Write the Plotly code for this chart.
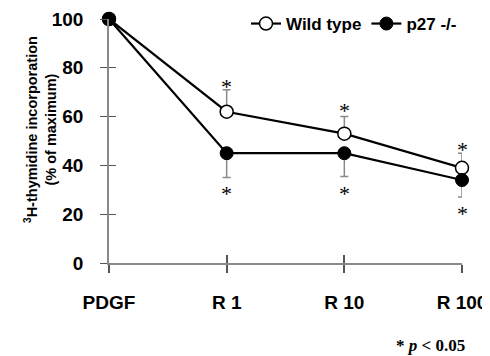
import plotly.graph_objects as go

categories = ["PDGF", "R 1", "R 10", "R 100"]
wt_values = [100, 62, 53, 39]
wt_err_plus = [0, 9, 7, 6]
p27_values = [100, 45, 45, 34]
p27_err_minus = [0, 10, 9.5, 7]
y_ticks = [0, 20, 40, 60, 80, 100]
star_cats = ["R 1", "R 10", "R 100"]
star_up_y = [74, 64, 48]
star_down_y = [30, 30, 22]

SANS = "Liberation Sans, Arial, sans-serif"
SERIF = "Liberation Serif, Times New Roman, serif"
AXC = "#8a8a8a"

# page has an 8px body margin; figure is sized/offset to compensate
W, H = 482, 348
OFF = 8

fig = go.Figure()
fig.add_trace(go.Scatter(
    x=categories, y=wt_values, name="Wild type", mode="lines+markers",
    line=dict(color="black", width=2.2),
    marker=dict(symbol="circle", size=13, color="white", line=dict(color="black", width=1.5)),
    error_y=dict(type="data", symmetric=False, array=wt_err_plus,
                 arrayminus=[0] * len(wt_values), color=AXC, thickness=1.5, width=4),
    cliponaxis=False,
))
fig.add_trace(go.Scatter(
    x=categories, y=p27_values, name="p27 -/-", mode="lines+markers",
    line=dict(color="black", width=2.2),
    marker=dict(symbol="circle", size=13, color="black", line=dict(color="black", width=1)),
    error_y=dict(type="data", symmetric=False, array=[0] * len(p27_values),
                 arrayminus=p27_err_minus, color=AXC, thickness=1.5, width=4),
    cliponaxis=False,
))
fig.add_trace(go.Scatter(x=[None], y=[None], xaxis="x2", yaxis="y2",
                         showlegend=False, hoverinfo="skip"))

for c, yu, yd in zip(star_cats, star_up_y, star_down_y):
    for yy in (yu, yd):
        fig.add_annotation(x=c, y=yy, xref="x", yref="y", text="*", showarrow=False,
                           font=dict(family=SERIF, size=22, color="black"),
                           yanchor="middle", yshift=-4)

fig.add_annotation(
    text="<sup>3</sup>H-thymidine incorporation<br>(% of maximum)",
    xref="paper", yref="paper", x=(40 - 109) / 353, y=(263 - 130) / 244,
    textangle=-90, showarrow=False, xanchor="center", yanchor="middle",
    font=dict(family=SANS, size=14.5, color="black", weight="bold"))

fig.add_annotation(
    text="* <i>p</i> &lt; 0.05", xref="paper", yref="paper",
    x=(430 - 109) / 353, y=(263 - 345) / 244, showarrow=False,
    xanchor="center", yanchor="middle",
    font=dict(family=SERIF, size=17, color="black", weight="bold"))

fig.update_layout(
    width=W, height=H,
    margin=dict(l=109 - OFF, r=28, t=19 - OFF, b=H - (19 - OFF) - 244, autoexpand=False),
    plot_bgcolor="white", paper_bgcolor="white",
    showlegend=True,
    legend=dict(orientation="h", xref="container", yref="container",
                x=(462 - OFF) / W, xanchor="right", y=1 - (24 - OFF) / H, yanchor="middle",
                font=dict(family=SANS, size=17, color="black", weight="bold"),
                bgcolor="rgba(0,0,0,0)", itemwidth=30, tracegroupgap=0),
    xaxis=dict(type="category", categoryarray=categories, range=[0, 3], automargin=False,
               showline=True, linecolor=AXC, linewidth=1.5, showgrid=False, zeroline=False,
               ticks="outside", ticklen=8, tickwidth=1.5, tickcolor="#555",
               ticklabelstandoff=13,
               tickfont=dict(family=SANS, size=19, color="black", weight="bold")),
    yaxis=dict(range=[0, 100], tickvals=y_ticks, automargin=False,
               showline=True, linecolor=AXC, linewidth=1.5, showgrid=False, zeroline=False,
               ticks="outside", ticklen=7, tickwidth=1, tickcolor="#555",
               ticklabelstandoff=13,
               tickfont=dict(family=SANS, size=19, color="black", weight="bold")),
    xaxis2=dict(overlaying="x", anchor="y", range=[0, 3], tickvals=[0, 1, 2, 3], automargin=False,
                showticklabels=False, ticks="inside", ticklen=8, tickwidth=1.5, tickcolor="#555",
                showline=False, showgrid=False, zeroline=False),
    yaxis2=dict(overlaying="y", anchor="x", range=[0, 100], tickvals=y_ticks, automargin=False,
                showticklabels=False, ticks="inside", ticklen=7, tickwidth=1, tickcolor="#555",
                showline=False, showgrid=False, zeroline=False),
)

fig.write_html("out.html")
